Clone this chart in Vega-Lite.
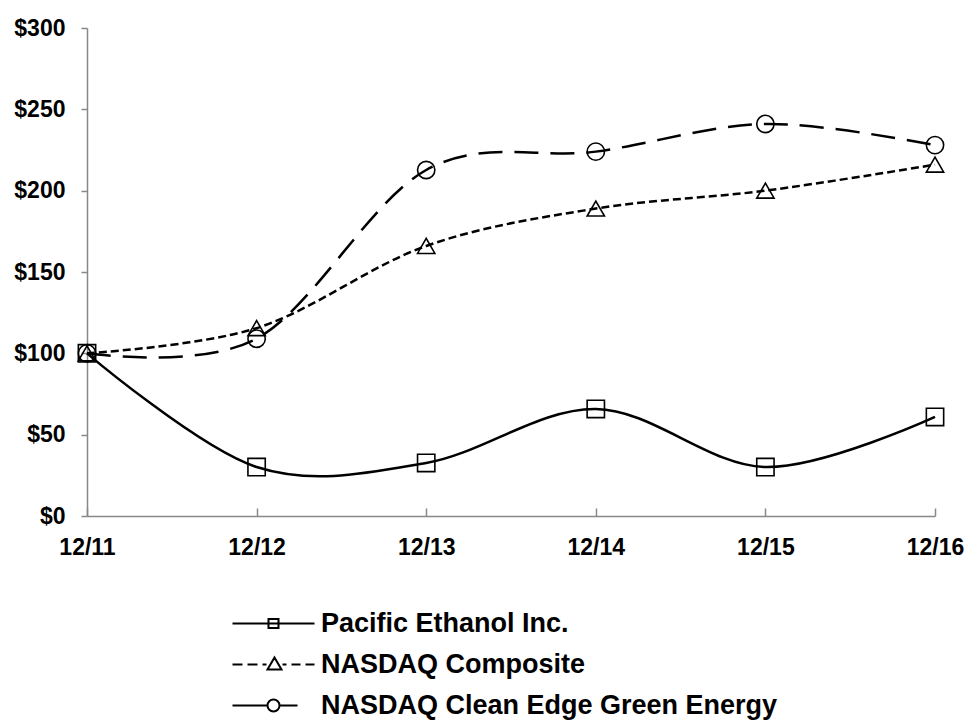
{
  "$schema": "https://vega.github.io/schema/vega-lite/v6.json",
  "width": 848,
  "height": 488,
  "autosize": {"type": "none"},
  "padding": {"left": 87, "top": 28, "right": 31, "bottom": 206},
  "background": "white",
  "config": {
    "view": {"stroke": null},
    "font": "Liberation Sans",
    "axis": {
      "domainColor": "#888888",
      "tickColor": "#888888",
      "domainWidth": 1.5,
      "tickWidth": 1.5,
      "grid": false,
      "labelFont": "Liberation Sans",
      "labelFontWeight": "bold",
      "labelFontSize": 23,
      "labelColor": "black",
      "title": null
    }
  },
  "data": {
    "values": [
      {"period": "12/11", "series": "Pacific Ethanol Inc.", "value": 100},
      {"period": "12/12", "series": "Pacific Ethanol Inc.", "value": 30.1},
      {"period": "12/13", "series": "Pacific Ethanol Inc.", "value": 32.6},
      {"period": "12/14", "series": "Pacific Ethanol Inc.", "value": 65.8},
      {"period": "12/15", "series": "Pacific Ethanol Inc.", "value": 30.1},
      {"period": "12/16", "series": "Pacific Ethanol Inc.", "value": 60.9},
      {"period": "12/11", "series": "NASDAQ Composite", "value": 100},
      {"period": "12/12", "series": "NASDAQ Composite", "value": 115.5},
      {"period": "12/13", "series": "NASDAQ Composite", "value": 166},
      {"period": "12/14", "series": "NASDAQ Composite", "value": 189},
      {"period": "12/15", "series": "NASDAQ Composite", "value": 200},
      {"period": "12/16", "series": "NASDAQ Composite", "value": 216},
      {"period": "12/11", "series": "NASDAQ Clean Edge Green Energy", "value": 100},
      {"period": "12/12", "series": "NASDAQ Clean Edge Green Energy", "value": 109},
      {"period": "12/13", "series": "NASDAQ Clean Edge Green Energy", "value": 212.7},
      {"period": "12/14", "series": "NASDAQ Clean Edge Green Energy", "value": 224},
      {"period": "12/15", "series": "NASDAQ Clean Edge Green Energy", "value": 241},
      {"period": "12/16", "series": "NASDAQ Clean Edge Green Energy", "value": 228}
    ]
  },
  "encoding": {
    "x": {
      "field": "period",
      "type": "ordinal",
      "sort": null,
      "scale": {"type": "point", "padding": 0},
      "axis": {"labelAngle": 0, "tickSize": -8, "labelPadding": 28, "labelBaseline": "top"}
    },
    "y": {
      "field": "value",
      "type": "quantitative",
      "scale": {"domain": [0, 300], "nice": false},
      "axis": {"values": [0, 50, 100, 150, 200, 250, 300], "format": "$.0f", "tickSize": 6, "labelPadding": 16}
    }
  },
  "layer": [
    {
      "transform": [{"filter": "datum.series === 'Pacific Ethanol Inc.'"}],
      "mark": {"type": "line", "interpolate": "cardinal", "tension": 0, "color": "black", "strokeWidth": 2.5},
      "encoding": {}
    },
    {
      "transform": [{"filter": "datum.series === 'NASDAQ Composite'"}],
      "mark": {"type": "line", "interpolate": "cardinal", "tension": 0, "color": "black", "strokeWidth": 2.5, "strokeDash": [8, 4]},
      "encoding": {}
    },
    {
      "transform": [{"filter": "datum.series === 'NASDAQ Clean Edge Green Energy'"}],
      "mark": {"type": "line", "interpolate": "cardinal", "tension": 0, "color": "black", "strokeWidth": 2.5, "strokeDash": [24, 12]},
      "encoding": {}
    },
    {
      "mark": {"type": "point", "filled": false, "strokeWidth": 1.6, "size": 300, "opacity": 1},
      "encoding": {
        "shape": {
          "field": "series",
          "type": "nominal",
          "scale": {
            "domain": ["NASDAQ Composite", "Pacific Ethanol Inc.", "NASDAQ Clean Edge Green Energy"],
            "range": ["triangle-up", "square", "circle"]
          },
          "legend": null
        },
        "color": {
          "field": "series",
          "type": "nominal",
          "scale": {
            "domain": ["Pacific Ethanol Inc.", "NASDAQ Composite", "NASDAQ Clean Edge Green Energy"],
            "range": ["black", "black", "black"]
          },
          "legend": {
            "title": null,
            "orient": "none",
            "legendX": 173,
            "legendY": 582,
            "padding": 0,
            "direction": "vertical",
            "symbolSize": 400,
            "symbolType": {"expr": "datum.value === 'Pacific Ethanol Inc.' ? 'M-4.1,0H4.1M-0.5,-0.45H0.5V0.45H-0.5Z' : datum.value === 'NASDAQ Composite' ? 'M-4.1,0H-3.1M-2.6,0H-1.6M-1.1,0H-0.7M0.9,0H1.3M1.8,0H2.7M3.2,0H4.1M0.1,-0.7L0.8,0.5H-0.6Z' : 'M-4.1,0H-0.6M0.6,0H2.4M0.6,0A0.6,0.6 0 1,0 -0.6,0A0.6,0.6 0 1,0 0.6,0'"},
            "symbolStrokeColor": "black",
            "symbolFillColor": "transparent",
            "symbolStrokeWidth": 2,
            "labelFont": "Liberation Sans",
            "labelFontWeight": "bold",
            "labelFontSize": 27,
            "labelColor": "black",
            "labelOffset": 34,
            "labelLimit": 700,
            "rowPadding": 13
          }
        }
      }
    }
  ]
}
